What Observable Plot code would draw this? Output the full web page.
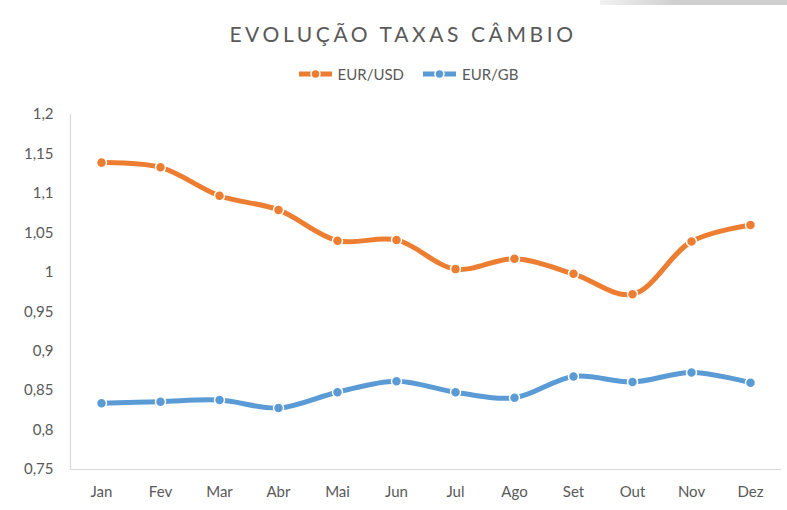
<!DOCTYPE html>
<html>
<head>
<meta charset="utf-8">
<script src="https://cdn.jsdelivr.net/npm/d3@7"></script>
<script src="https://cdn.jsdelivr.net/npm/@observablehq/plot@0.6"></script>
<style>
  html, body { margin: 0; padding: 0; background: #fff; }
  #wrap { position: relative; width: 787px; height: 510px; overflow: hidden; font-family: Lato, "Open Sans", sans-serif; color: #595959; }
  #topbar { position: absolute; left: 600px; top: 0; width: 187px; height: 5px; background: linear-gradient(to right, #f2f2f2, #cfcfcf 40%, #cfcfcf); }
  #title { position: absolute; left: 0; width: 806px; top: 21px; text-align: center; font-size: 21px; letter-spacing: 3.6px; color: #595959; }
  #legend { position: absolute; left: 0; width: 816px; top: 65px; text-align: center; font-size: 15px; color: #595959; }
  .li { display: inline-flex; align-items: center; margin: 0 9px; }
  .li svg { margin-right: 5px; }
  #chart { position: absolute; left: 0; top: 0; }
</style>
</head>
<body>
<div id="wrap">
  <div id="topbar"></div>
  <div id="title"></div>
  <div id="legend"></div>
  <div id="chart"></div>
</div>
<script>
const months = ["Jan","Fev","Mar","Abr","Mai","Jun","Jul","Ago","Set","Out","Nov","Dez"];
const seriesNames = ["EUR/USD","EUR/GB"];
const eurUsd = [1.139, 1.133, 1.097, 1.079, 1.040, 1.041, 1.004, 1.017, 0.998, 0.972, 1.039, 1.060];
const eurGb  = [0.834, 0.836, 0.838, 0.828, 0.848, 0.862, 0.848, 0.841, 0.868, 0.861, 0.873, 0.860];
const yTicks = [0.75, 0.8, 0.85, 0.9, 0.95, 1, 1.05, 1.1, 1.15, 1.2];
const colors = ["#ED7D31", "#5B9BD5"];
const titleText = "EVOLUÇÃO TAXAS CÂMBIO";

document.getElementById("title").textContent = titleText;

const data = [];
months.forEach((m, i) => {
  data.push({month: m, series: seriesNames[0], value: eurUsd[i]});
  data.push({month: m, series: seriesNames[1], value: eurGb[i]});
});

// Legend
const legend = document.getElementById("legend");
seriesNames.forEach((s, i) => {
  const span = document.createElement("span");
  span.className = "li";
  span.innerHTML = `<svg width="35" height="12"><line x1="1" x2="34" y1="6" y2="6" stroke="${colors[i]}" stroke-width="5"/><circle cx="17.5" cy="6" r="4.5" fill="${colors[i]}" stroke="#fff" stroke-width="1.5"/></svg><span></span>`;
  span.lastChild.textContent = s;
  legend.appendChild(span);
});

const fmt = d => String(d).replace(".", ",");

const chart = Plot.plot({
  width: 787,
  height: 510,
  marginTop: 114,
  marginBottom: 41,
  marginLeft: 70,
  marginRight: 7,
  style: {fontFamily: "Lato, 'Open Sans', sans-serif", fontSize: "15px", color: "#595959", background: "transparent"},
  x: {type: "point", domain: months, padding: 0.5},
  y: {domain: [0.75, 1.2]},
  color: {domain: seriesNames, range: colors},
  marks: [
    Plot.frame({anchor: "left", stroke: "#d9d9d9", strokeWidth: 1.2}),
    Plot.frame({anchor: "bottom", stroke: "#d9d9d9", strokeWidth: 1.2}),
    Plot.axisY({ticks: yTicks, tickSize: 0, tickPadding: 17, tickFormat: fmt, label: null, fill: "#595959"}),
    Plot.axisX({tickSize: 0, tickPadding: 17, label: null, fill: "#595959"}),
    Plot.line(data, {x: "month", y: "value", z: "series", stroke: "series", strokeWidth: 5, curve: "catmull-rom"}),
    Plot.dot(data, {x: "month", y: "value", fill: "series", r: 5, stroke: "#fff", strokeWidth: 1.5})
  ]
});
document.getElementById("chart").appendChild(chart);
</script>
</body>
</html>
